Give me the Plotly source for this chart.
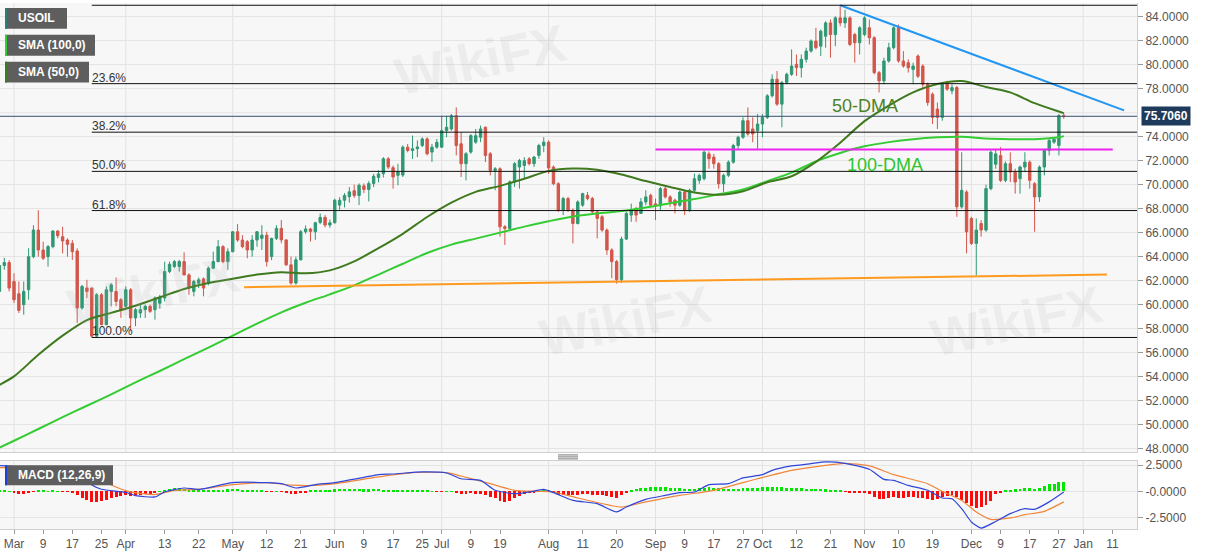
import pandas as pd
import plotly.graph_objects as go

# trading days on the chart (weekdays 24 Feb - 28 Dec 2021)
days = pd.bdate_range("2021-02-24", "2021-12-28")

opens = [
    61.09, 63.25, 63.50,
    61.92, 60.90, 59.99, 61.23, 63.99, 66.21, 64.55, 63.99, 64.83, 66.13,
    65.66, 65.38, 65.10, 64.47, 59.71, 61.37, 61.37, 57.36, 60.81, 58.32,
    61.09, 61.09, 60.40, 59.85, 61.23, 58.88, 59.29, 59.57, 59.85, 59.57,
    60.10, 60.54, 62.75, 63.17, 63.17, 63.58, 62.47, 61.09, 61.78, 62.14,
    61.80, 63.03, 63.58, 64.83, 63.58, 64.41, 66.07, 65.38, 65.24, 64.55,
    65.38, 65.52, 65.79, 64.00, 65.52, 66.35, 65.39, 63.31, 61.79, 63.73,
    66.08, 66.30, 66.07, 66.85, 67.27, 66.63, 66.82, 68.30, 68.70, 69.00,
    69.50, 69.10, 69.90, 69.60, 70.10, 70.60, 70.92, 72.16, 71.42, 70.78,
    70.80, 73.13, 72.85, 73.00, 73.27, 73.82, 72.72, 73.13, 73.13, 74.51,
    74.65, 75.76, 73.41, 71.75, 72.72, 73.55, 73.96, 74.79, 72.58, 71.19,
    71.33, 66.49, 66.35, 70.23, 71.47, 71.60, 72.16, 71.75, 72.44, 73.27,
    73.55, 71.47, 70.08, 67.87, 68.84, 67.87, 66.76, 68.29, 69.11, 68.84,
    67.73, 67.32, 66.21, 64.55, 63.58, 62.06, 65.46, 67.46, 68.01, 67.60,
    68.56, 69.11, 68.40, 68.23, 69.67, 68.98, 68.70, 68.29, 69.39, 67.87,
    69.53, 70.36, 70.50, 72.57, 72.30, 71.75, 70.08, 70.78, 71.88, 73.27,
    73.96, 75.34, 74.65, 74.51, 75.06, 75.62, 77.42, 78.80, 76.72, 78.52,
    79.21, 80.04, 79.76, 80.46, 81.15, 81.98, 81.56, 82.39, 83.50, 82.53,
    83.92, 83.50, 83.92, 82.53, 81.84, 82.53, 83.09, 82.26, 79.35, 78.66,
    80.32, 81.43, 83.09, 80.32, 80.18, 79.62, 80.74, 79.90, 78.38, 77.55,
    76.31, 75.62, 78.38, 77.83, 78.10, 68.15, 69.39, 67.18, 65.10, 66.76,
    66.21, 69.67, 71.70, 72.43, 70.36, 71.75, 71.05, 70.50, 71.47, 71.88,
    70.08, 68.98, 71.47, 72.85, 73.55, 73.27, 75.76,
]
highs = [
    63.58, 63.90, 63.70,
    62.61, 61.92, 61.92, 64.69, 66.62, 67.87, 65.24, 64.96, 66.21, 66.21,
    66.49, 65.52, 65.38, 64.69, 61.64, 62.06, 61.42, 60.95, 60.95, 61.51,
    61.78, 62.25, 60.54, 61.51, 61.37, 59.71, 59.99, 59.99, 59.99, 60.68,
    60.81, 63.58, 63.58, 63.72, 63.72, 64.36, 62.61, 62.06, 62.25, 62.25,
    63.17, 64.41, 65.38, 64.96, 64.69, 66.13, 66.71, 65.79, 65.38, 65.79,
    66.13, 66.62, 66.07, 65.57, 66.62, 67.05, 65.44, 64.00, 64.00, 66.22,
    66.60, 66.40, 66.90, 67.60, 67.46, 67.10, 68.84, 68.95, 69.30, 69.80,
    70.00, 70.10, 70.10, 70.30, 70.90, 71.20, 72.30, 72.30, 71.60, 71.74,
    73.28, 73.40, 74.10, 73.70, 73.96, 73.96, 73.40, 73.82, 75.76, 75.76,
    75.90, 76.45, 74.37, 72.72, 74.23, 74.65, 74.93, 74.85, 72.72, 71.47,
    71.45, 66.63, 70.36, 71.89, 72.16, 72.30, 72.30, 72.40, 73.41, 73.96,
    73.70, 71.60, 70.20, 68.98, 68.98, 68.01, 68.70, 69.33, 69.39, 68.98,
    67.87, 67.46, 66.35, 64.69, 63.72, 65.66, 67.73, 68.42, 68.15, 68.89,
    69.53, 69.25, 68.84, 69.81, 69.81, 69.11, 68.84, 69.53, 69.53, 69.67,
    70.92, 70.92, 72.85, 72.77, 72.57, 71.89, 70.92, 72.02, 73.41, 74.09,
    75.62, 76.45, 75.62, 75.90, 75.90, 77.55, 79.21, 79.49, 78.66, 79.35,
    81.29, 80.87, 80.87, 81.43, 82.12, 83.09, 82.95, 83.64, 83.78, 84.05,
    84.97, 84.60, 84.05, 82.67, 83.22, 84.05, 83.78, 82.39, 79.49, 80.60,
    81.84, 83.22, 83.36, 81.15, 80.46, 80.18, 80.87, 80.05, 78.52, 77.69,
    76.86, 78.52, 78.66, 78.38, 78.24, 72.71, 69.53, 67.32, 67.18, 67.04,
    70.00, 72.85, 72.99, 73.13, 71.95, 72.70, 71.33, 71.60, 72.71, 72.02,
    70.22, 71.60, 72.99, 73.82, 73.96, 75.90, 76.00,
]
lows = [
    60.95, 62.90, 61.09,
    60.12, 59.29, 59.15, 60.40, 63.86, 63.99, 63.72, 63.17, 64.69, 65.52,
    64.27, 63.99, 63.72, 58.46, 59.57, 60.54, 57.25, 57.30, 58.27, 58.27,
    59.85, 59.85, 58.88, 59.70, 57.77, 58.19, 58.88, 58.88, 59.29, 58.74,
    59.65, 60.26, 62.61, 63.03, 62.75, 62.42, 60.81, 60.68, 61.37, 60.68,
    61.60, 62.97, 63.53, 63.44, 62.89, 64.36, 65.24, 64.69, 63.86, 63.99,
    64.83, 64.55, 63.17, 63.70, 65.38, 65.11, 63.23, 61.65, 61.65, 63.67,
    65.90, 65.25, 65.40, 66.70, 66.44, 66.40, 66.76, 67.90, 68.10, 68.50,
    68.90, 68.30, 69.30, 68.60, 69.80, 70.20, 70.60, 71.30, 69.67, 69.95,
    70.64, 72.70, 72.15, 72.30, 73.13, 72.44, 71.90, 72.99, 73.07, 73.96,
    74.51, 72.44, 70.64, 70.36, 72.58, 73.41, 73.55, 71.89, 70.78, 69.53,
    65.66, 64.97, 66.27, 69.81, 69.67, 70.50, 71.61, 71.47, 72.16, 72.71,
    70.90, 69.95, 67.73, 67.46, 67.73, 65.10, 66.68, 68.15, 68.70, 67.59,
    65.52, 66.07, 64.14, 62.20, 61.74, 61.80, 65.38, 66.90, 66.90, 67.60,
    68.29, 68.15, 67.04, 67.87, 68.84, 68.15, 67.60, 68.15, 67.46, 67.73,
    69.39, 70.08, 70.36, 71.33, 71.33, 69.67, 69.39, 70.64, 71.75, 73.00,
    73.82, 74.09, 73.54, 72.99, 73.96, 75.48, 77.28, 76.58, 74.79, 78.38,
    79.07, 79.07, 78.94, 80.18, 81.01, 81.29, 80.74, 81.43, 80.60, 81.56,
    83.22, 83.08, 81.56, 80.18, 80.87, 82.39, 81.70, 79.21, 77.69, 78.38,
    80.18, 81.29, 80.18, 79.76, 79.35, 78.38, 78.90, 77.97, 76.58, 75.06,
    74.65, 75.34, 77.83, 77.55, 67.32, 68.01, 64.27, 64.97, 62.42, 65.66,
    66.07, 69.53, 71.33, 70.22, 70.20, 70.22, 69.25, 69.25, 71.05, 69.67,
    66.07, 68.56, 70.78, 72.43, 73.41, 72.44, 75.50,
]
closes = [
    63.25, 63.50, 61.37,
    60.40, 59.51, 61.09, 63.99, 66.21, 64.55, 63.86, 64.83, 66.13, 65.74,
    65.30, 65.02, 64.41, 59.71, 61.51, 61.09, 57.36, 60.81, 58.32, 61.23,
    61.64, 60.26, 59.57, 61.23, 58.88, 59.57, 59.57, 59.85, 59.43, 60.54,
    60.59, 62.75, 63.36, 63.58, 63.58, 62.47, 61.37, 61.92, 62.06, 61.37,
    63.03, 63.58, 64.83, 63.58, 64.41, 66.07, 65.38, 64.83, 64.55, 65.38,
    66.07, 65.79, 63.58, 65.52, 66.35, 65.39, 63.31, 61.79, 63.73, 66.08,
    66.30, 66.10, 66.82, 67.27, 66.63, 66.82, 68.70, 68.70, 69.10, 69.40,
    69.10, 69.95, 69.60, 70.10, 70.70, 70.90, 72.16, 71.47, 70.64, 71.06,
    73.13, 72.85, 73.00, 73.15, 73.82, 72.58, 73.13, 73.54, 74.51, 74.79,
    75.76, 73.27, 71.75, 72.58, 74.09, 74.09, 74.65, 72.44, 71.19, 71.33,
    66.49, 66.35, 70.23, 71.75, 72.02, 72.00, 71.75, 72.30, 73.27, 73.55,
    71.40, 70.08, 67.87, 68.84, 67.87, 66.76, 68.56, 69.25, 68.84, 67.73,
    67.18, 66.21, 64.55, 63.58, 62.06, 65.46, 67.60, 67.87, 67.46, 68.56,
    68.98, 68.29, 68.23, 69.67, 68.98, 68.56, 68.29, 69.39, 67.87, 69.53,
    70.50, 70.78, 72.71, 72.16, 71.75, 70.08, 70.78, 71.88, 73.27, 73.96,
    75.34, 74.23, 74.23, 75.06, 75.62, 77.42, 78.80, 76.72, 78.52, 79.21,
    79.90, 79.76, 80.46, 81.15, 81.98, 81.43, 82.81, 83.50, 82.53, 83.92,
    83.50, 83.92, 81.70, 81.84, 83.09, 83.92, 82.26, 79.35, 78.66, 80.32,
    81.43, 83.09, 80.32, 79.90, 79.76, 79.90, 79.05, 78.38, 76.86, 75.62,
    75.62, 78.38, 77.97, 78.10, 68.15, 69.53, 66.07, 65.10, 66.21, 66.21,
    69.67, 72.71, 72.57, 70.36, 71.75, 71.05, 70.22, 71.47, 71.88, 70.36,
    68.98, 71.47, 72.85, 73.68, 73.80, 75.76, 75.71,
]

# moving averages every 5th session (positions in days)
sma_pos = [0] + list(range(3, 219, 5)) + [219]
sma100 = [
    48.05, 48.63, 49.61, 50.60, 51.55, 52.50, 53.50, 54.45, 55.45, 56.40,
    57.40, 58.40, 59.35, 60.15, 60.85, 61.60, 62.50, 63.40, 64.30, 65.00,
    65.50, 66.00, 66.50, 66.95, 67.35, 67.60, 67.80, 68.10, 68.45, 68.80,
    69.20, 69.60, 70.30, 71.00, 71.95, 72.65, 73.20, 73.55, 73.80, 73.95,
    74.00, 73.85, 73.80, 73.80, 73.95, 74.05,
]
sma50 = [
    53.30, 54.00, 55.80, 57.40, 58.70, 59.30, 59.90, 60.60, 61.30, 61.80,
    62.15, 62.50, 62.70, 62.60, 62.85, 63.60, 64.70, 65.90, 67.30, 68.50,
    69.40, 69.90, 70.50, 71.15, 71.35, 71.25, 70.85, 70.30, 69.80, 69.35,
    69.15, 69.45, 70.20, 70.70, 71.90, 73.50, 75.30, 76.60, 77.70, 78.40,
    78.65, 78.15, 77.70, 76.80, 76.10, 75.97,
]

# MACD (12,26,9) lines, read at the listed sessions (index from 1 Mar)
macd_idx = [-3, 6, 12, 14, 16, 18, 23, 25, 29, 31, 35, 38, 45, 52, 55, 58,
            62, 66, 72, 75, 78, 84, 89, 92, 96, 99, 103, 106, 109, 111, 115,
            120, 124, 126, 130, 134, 137, 140, 143, 147, 150, 154, 156, 160,
            164, 167, 171, 176, 179, 181, 184, 188, 191, 193, 195, 197, 199,
            202, 205, 208, 210, 213, 216]
macd_vals = [2.45, 2.2, 2.1, 1.35, 0.6, 0.2, -0.1, -0.4, -0.53, -0.06, 0.32,
             0.19, 0.83, 0.83, 0.73, 0.32, 0.64, 0.83, 1.33, 1.6, 1.65, 1.85,
             1.75, 1.2, 1.05, 0.1, -0.22, -0.06, 0.19, -0.12, -0.86, -1.17,
             -1.96, -1.49, -0.76, -0.38, -0.12, -0.06, 0.64, 0.73, 1.28, 1.59,
             2.0, 2.42, 2.64, 2.8, 2.67, 2.1, 1.14, 1.05, 0.57, 0.1, -0.63,
             -0.7, -1.65, -2.91, -3.49, -2.86, -2.12, -1.65, -1.71, -1.0, -0.06]
signal_idx = [-3, 6, 12, 16, 18, 20, 24, 29, 33, 38, 45, 52, 57, 62, 66, 75,
              82, 89, 92, 98, 103, 108, 111, 116, 125, 130, 137, 144, 153, 160,
              167, 171, 176, 181, 188, 191, 195, 198, 201, 205, 208, 212, 216]
signal_vals = [2.25, 2.2, 2.15, 1.6, 1.1, 0.6, -0.05, -0.3, 0.1, 0.19, 0.64,
               0.83, 0.6, 0.57, 0.73, 1.37, 1.78, 1.78, 1.46, 0.73, 0.1, 0.0,
               -0.06, -0.63, -1.49, -1.0, -0.38, 0.1, 1.2, 2.0, 2.48, 2.67,
               2.42, 1.59, 0.73, 0.0, -0.86, -1.96, -2.67, -2.53, -2.22, -1.9,
               -1.0]
hist_vals = [
    0.05, 0.03, 0.02,
    -0.12, -0.25, -0.28, -0.2,
    -0.05, 0.03, 0.03, 0.02, 0.03, 0.02, -0.02, -0.05,
    -0.1, -0.35, -0.6, -0.85, -1.0, -1.0, -0.9, -0.8, -0.65, -0.5, -0.45,
    -0.35, -0.45, -0.4, -0.35, -0.3, -0.25, -0.15,
    0.02, 0.12, 0.2, 0.28, 0.3, 0.25, 0.15,
    0.08, 0.06, 0.05, 0.07, 0.1, 0.15, 0.12,
    0.18, 0.22, 0.2, 0.15, 0.1,
    0.08, 0.06, 0.05, -0.02, -0.03, 0.02,
    -0.05, -0.15, -0.3, -0.3, -0.2, -0.08,
    0.03, 0.06, 0.1, 0.1, 0.12, 0.18, 0.22, 0.25, 0.25, 0.22, 0.2, 0.18,
    0.18, 0.2, 0.2,
    0.15, 0.1, 0.05, 0.04, 0.08, 0.07, 0.06, 0.05, 0.05, 0.03,
    0.02, -0.02, -0.03, 0.02, 0.01,
    -0.15, -0.25, -0.25, -0.2, -0.22, -0.25, -0.35, -0.5,
    -0.65, -0.95, -1.05, -0.9, -0.6, -0.45,
    -0.3, -0.2, -0.12, -0.05,
    0.05, 0.03,
    -0.2, -0.4, -0.4, -0.35, -0.4, -0.35, -0.3, -0.3, -0.35, -0.35, -0.4,
    -0.45, -0.55, -0.65, -0.4, -0.15,
    0.1, 0.2, 0.3, 0.35, 0.38, 0.38, 0.4, 0.38, 0.35, 0.3, 0.28, 0.22, 0.2,
    0.25, 0.28, 0.35, 0.4, 0.35, 0.28, 0.22, 0.2, 0.22, 0.25, 0.3, 0.32,
    0.3, 0.3,
    0.38, 0.4, 0.42, 0.38, 0.36, 0.35, 0.33,
    0.3, 0.28, 0.26, 0.24, 0.22, 0.2, 0.17,
    0.12, 0.08, 0.05,
    -0.03, -0.1, -0.15, -0.15, -0.2, -0.3,
    -0.55, -0.75, -0.7, -0.6, -0.55, -0.6, -0.6, -0.55, -0.55, -0.6, -0.65,
    -0.7, -0.8,
    -0.75, -0.55, -0.45, -0.35, -0.55,
    -0.85, -1.1, -1.4, -1.55, -1.5, -1.3, -0.9, -0.3, -0.08,
    0.1, 0.15, 0.18, 0.2, 0.35, 0.3, 0.22, 0.35, 0.5, 0.65, 0.7, 0.85, 0.9,
]

# Fibonacci retracement of the Mar low / Oct high swing
fib_levels = [84.97, 78.43, 74.38, 71.11, 67.84, 57.25]
fib_labels = ["", "23.6%", "38.2%", "50.0%", "61.8%", "100.0%"]
fib_start = "2021-03-23"

last_price = 75.706
resistance = 72.93

# price axis labels (76 sits under the last price tag)
price_ticks = [48, 50, 52, 54, 56, 58, 60, 62, 64, 66, 68, 70, 72, 74, 78, 80, 82, 84]
price_grid = [76]

x_tick_dates = ["2021-03-01", "2021-03-09", "2021-03-17", "2021-03-25", "2021-04-01",
                "2021-04-13", "2021-04-22", "2021-05-03", "2021-05-12", "2021-05-21",
                "2021-06-01", "2021-06-09", "2021-06-17", "2021-06-25", "2021-07-01",
                "2021-07-09", "2021-07-19", "2021-08-02", "2021-08-11", "2021-08-20",
                "2021-09-01", "2021-09-09", "2021-09-17", "2021-09-27", "2021-10-01",
                "2021-10-12", "2021-10-21", "2021-11-01", "2021-11-10", "2021-11-19",
                "2021-12-01", "2021-12-09", "2021-12-17", "2021-12-27", "2022-01-03",
                "2022-01-11"]
x_tick_text = ["Mar", "9", "17", "25", "Apr", "13", "22", "May", "12", "21",
               "Jun", "9", "17", "25", "Jul", "9", "19", "Aug", "11", "20",
               "Sep", "9", "17", "27", "Oct", "12", "21", "Nov", "10", "19",
               "Dec", "9", "17", "27", "Jan", "11"]
month_starts = ["2021-03-01", "2021-04-01", "2021-05-03", "2021-06-01", "2021-07-01",
                "2021-08-02", "2021-09-01", "2021-10-01", "2021-11-01", "2021-12-01",
                "2022-01-03"]

x_start = "2021-02-24 02:50"
x_end = "2022-01-18 01:40"

up_color = "#2f9873"
down_color = "#d3564a"
font_family = "Liberation Sans, Arial, sans-serif"

W, H_PLOT = 1137.0, 529.0


def px(x):
    return x / W


def py(y):
    return 1 - y / H_PLOT


fig = go.Figure()

fig.add_trace(go.Candlestick(
    x=days, open=opens, high=highs, low=lows, close=closes,
    increasing=dict(line=dict(color=up_color, width=1), fillcolor=up_color),
    decreasing=dict(line=dict(color=down_color, width=1), fillcolor=down_color),
    whiskerwidth=0, hoverinfo="skip", xaxis="x", yaxis="y"))

sma_days = [days[p] for p in sma_pos]
fig.add_trace(go.Scatter(x=sma_days, y=sma100, mode="lines",
                         line=dict(color="#33cc33", width=2, shape="spline", smoothing=0.8),
                         hoverinfo="skip", xaxis="x", yaxis="y"))
fig.add_trace(go.Scatter(x=sma_days, y=sma50, mode="lines",
                         line=dict(color="#3f7a1e", width=2, shape="spline", smoothing=0.8),
                         hoverinfo="skip", xaxis="x", yaxis="y"))

# trend lines
fig.add_trace(go.Scatter(x=["2021-10-25", "2022-01-13 10:00"], y=[84.97, 76.2], mode="lines",
                         line=dict(color="#2196f3", width=2), hoverinfo="skip"))
fig.add_trace(go.Scatter(x=["2021-09-01", "2022-01-11 02:00"], y=[resistance, resistance],
                         mode="lines", line=dict(color="#ee22ee", width=2), hoverinfo="skip"))
fig.add_trace(go.Scatter(x=["2021-05-05 08:00", "2022-01-07 21:00"], y=[61.45, 62.5],
                         mode="lines", line=dict(color="#ff9a1f", width=2), hoverinfo="skip"))

# MACD panel
hist_colors = ["#00e600" if v >= 0 else "#ff0a0a" for v in hist_vals]
fig.add_trace(go.Bar(x=days, y=hist_vals, marker=dict(color=hist_colors, line=dict(width=0)),
                     width=0.6 * 86400000, hoverinfo="skip", xaxis="x2", yaxis="y2"))
fig.add_trace(go.Scatter(x=[days[i + 3] for i in signal_idx], y=signal_vals, mode="lines",
                         line=dict(color="#f0863a", width=1.2, shape="spline", smoothing=0.6),
                         hoverinfo="skip", xaxis="x2", yaxis="y2"))
fig.add_trace(go.Scatter(x=[days[i + 3] for i in macd_idx], y=macd_vals, mode="lines",
                         line=dict(color="#2f45d8", width=1.2, shape="spline", smoothing=0.6),
                         hoverinfo="skip", xaxis="x2", yaxis="y2"))

shapes = []
annotations = []

# vertical month grid lines in both panels
for d in month_starts:
    shapes.append(dict(type="line", xref="x", yref="paper", x0=d, x1=d, y0=0.1461, y1=1,
                       line=dict(color="#e2e2e2", width=1), layer="below"))
    shapes.append(dict(type="line", xref="x", yref="paper", x0=d, x1=d, y0=0, y1=0.1291,
                       line=dict(color="#e2e2e2", width=1), layer="below"))

# grid line for the price level hidden behind the price tag
for g in price_grid:
    shapes.append(dict(type="line", xref="paper", yref="y", x0=0, x1=1, y0=g, y1=g,
                       line=dict(color="#e4e4e4", width=1), layer="below"))

# fibonacci lines and labels
for lvl, lab in zip(fib_levels, fib_labels):
    shapes.append(dict(type="line", xref="x", yref="y", x0=fib_start, x1=x_end, y0=lvl, y1=lvl,
                       line=dict(color="#111111", width=1)))
    if lab:
        annotations.append(dict(x=fib_start, y=lvl, xref="x", yref="y", text=lab,
                                showarrow=False, xanchor="left", yanchor="bottom",
                                xshift=-2, yshift=-3,
                                font=dict(size=12, color="#333333", family=font_family)))

# last price line
shapes.append(dict(type="line", xref="paper", yref="y", x0=0, x1=1, y0=last_price, y1=last_price,
                   line=dict(color="#35506e", width=1)))

# panel splitter handle
for yy in (454.5, 456.5, 458.5):
    shapes.append(dict(type="line", xref="paper", yref="paper", x0=px(558), x1=px(578),
                       y0=py(yy), y1=py(yy), line=dict(color="#777777", width=1)))

# indicator name boxes
boxes = [
    ("USOIL", 5, 67, 5, 26, "#2b7d78"),
    ("SMA (100,0)", 5, 95, 32, 53, "#33cc33"),
    ("SMA (50,0)", 5, 89, 59, 80, "#3f7a1e"),
    ("MACD (12,26,9)", 5, 113, 465, 485, "#1f3fcf"),
]
for text, x0, x1, y0, y1, edge in boxes:
    shapes.append(dict(type="rect", xref="paper", yref="paper", x0=px(x0), x1=px(x1),
                       y0=py(y1), y1=py(y0), fillcolor="#5e5e5e", line=dict(width=0),
                       layer="above"))
    shapes.append(dict(type="rect", xref="paper", yref="paper", x0=px(x0), x1=px(x0 + 2),
                       y0=py(y1), y1=py(y0), fillcolor=edge, line=dict(width=0),
                       layer="above"))
    annotations.append(dict(x=px(16), y=py((y0 + y1) / 2), xref="paper", yref="paper",
                            text="<b>" + text + "</b>", showarrow=False, xanchor="left",
                            yanchor="middle",
                            font=dict(size=12, color="white", family=font_family)))

# moving average captions
annotations.append(dict(x="2021-10-21", y=76.6, xref="x", yref="y", text="50-DMA",
                        showarrow=False, xanchor="left", yanchor="middle",
                        font=dict(size=18, color="#4d8229", family=font_family)))
annotations.append(dict(x="2021-10-26", y=71.64, xref="x", yref="y", text="100-DMA",
                        showarrow=False, xanchor="left", yanchor="middle",
                        font=dict(size=18, color="#2ec42e", family=font_family)))

# last price tag on the axis
annotations.append(dict(x=1, y=last_price, xref="paper", yref="y",
                        text="<b>75.7060</b>", showarrow=False, xanchor="left",
                        yanchor="middle", xshift=4, bgcolor="#1f3b5c", borderpad=2,
                        font=dict(size=12, color="white", family=font_family)))

# faint watermarks
for wx, wy in ((60, 290), (625, 320), (1110, 320), (480, 8)):
    annotations.append(dict(x=px(wx), y=py(wy), xref="paper", yref="paper", text="<b>WikiFX</b>",
                            showarrow=False, textangle=-12,
                            font=dict(size=52, color="rgba(170,170,170,0.14)",
                                      family=font_family)))

axis_font = dict(size=12, color="#555555", family=font_family)
fig.update_layout(
    width=1207, height=555,
    margin=dict(l=0, r=70, t=0, b=26),
    paper_bgcolor="white", plot_bgcolor="#f7f7f7",
    showlegend=False, bargap=0,
    font=dict(family=font_family),
    shapes=shapes, annotations=annotations,
    xaxis=dict(domain=[0, 1], anchor="y", range=[x_start, x_end],
               rangebreaks=[dict(bounds=["sat", "mon"])],
               rangeslider=dict(visible=False), showticklabels=False, showgrid=False,
               zeroline=False, showline=True, linecolor="#cfcfcf", ticks=""),
    yaxis=dict(domain=[0.1461, 1], anchor="x", side="right", range=[47.68, 85.16],
               tickvals=price_ticks, tickformat=".4f", ticks="outside", ticklen=5,
               tickcolor="#999999", gridcolor="#e4e4e4", zeroline=False,
               showline=True, linecolor="#cfcfcf", tickfont=axis_font),
    xaxis2=dict(domain=[0, 1], anchor="y2", matches="x", range=[x_start, x_end],
                rangebreaks=[dict(bounds=["sat", "mon"])],
                tickvals=x_tick_dates, ticktext=x_tick_text, ticks="outside", ticklen=4,
                tickcolor="#999999", showgrid=False, zeroline=False, showline=True,
                mirror=True, linecolor="#cfcfcf", tickfont=axis_font),
    yaxis2=dict(domain=[0, 0.1291], anchor="x2", side="right", range=[-3.58, 2.88],
                tickvals=[2.5, 0, -2.5], ticktext=["2.5000", "-0.0000", "-2.5000"],
                ticks="outside", ticklen=5, tickcolor="#999999", gridcolor="#e4e4e4",
                zeroline=False, showline=True, linecolor="#cfcfcf", tickfont=axis_font),
)

# the page's default body margin would push the chart off the bottom edge
fig.write_html("out.html", config={"displayModeBar": False},
               post_script="document.body.style.margin='0';")
